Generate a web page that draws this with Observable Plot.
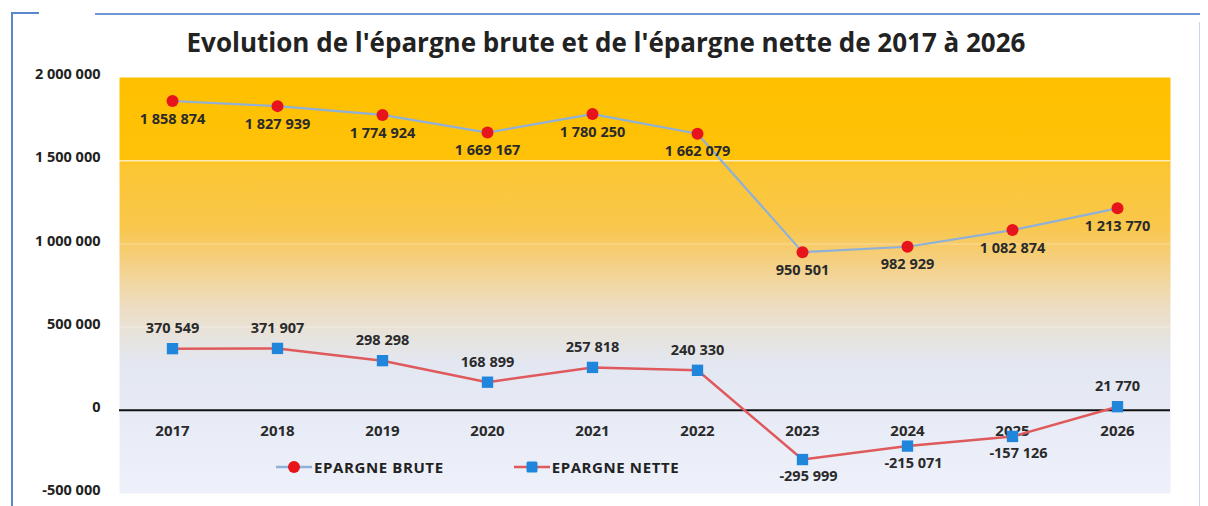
<!DOCTYPE html>
<html><head><meta charset="utf-8">
<script src="https://cdn.jsdelivr.net/npm/d3@7"></script>
<script src="https://cdn.jsdelivr.net/npm/@observablehq/plot@0.6"></script>
<style>
body{margin:0;background:#fff;width:1208px;height:506px;overflow:hidden;position:relative;font-family:"Open Sans",sans-serif}
#title{position:absolute;left:0;top:25px;width:1208px;text-align:center;font-size:26px;font-weight:700;color:#222;line-height:34px;padding-left:2px}
#chart{position:absolute;left:0;top:60px}
.bL{position:absolute;left:11px;top:12px;width:2px;height:494px;background:#5a86cc}
.bT1{position:absolute;left:11px;top:12px;width:28px;height:2px;background:#5a86cc}
.bT2{position:absolute;left:95px;top:13px;width:1105px;height:2px;background:#6f95d4}
.bR{position:absolute;left:1199px;top:22px;width:1px;height:484px;background:#c9d6ee}
#legend{position:absolute;top:457px;left:276px;display:flex;align-items:center;font-size:15px;font-weight:700;color:#222;letter-spacing:0.6px}
#legend .it{display:flex;align-items:center;margin-right:70px}
#legend svg{margin-right:2px}
</style></head><body>
<div class="bL"></div><div class="bT1"></div><div class="bT2"></div><div class="bR"></div>
<div id="title">Evolution de l'épargne brute et de l'épargne nette de 2017 à 2026</div>
<div id="chart"></div>
<div id="legend"></div>
<script>
const years = ["2017","2018","2019","2020","2021","2022","2023","2024","2025","2026"];
const brute = [1858874, 1827939, 1774924, 1669167, 1780250, 1662079, 950501, 982929, 1082874, 1213770];
const nette = [370549, 371907, 298298, 168899, 257818, 240330, -295999, -215071, -157126, 21770];
const yTicks = [-500000, 0, 500000, 1000000, 1500000, 2000000];
const seriesNames = ["EPARGNE BRUTE", "EPARGNE NETTE"];
const colBruteLine = "#8fb0d8", colBruteDot = "#e8141c";
const colNetteLine = "#df5a5c", colNetteDot = "#1f86dc";

const fmt = v => d3.format(",")(v).replace(/,/g, " ").replace("−", "-");
const dataB = years.map((y, i) => ({year: y, v: brute[i]}));
const dataN = years.map((y, i) => ({year: y, v: nette[i]}));
const labelStyle = {fontSize: 14.5, fontWeight: "bold", fill: "#2a2a2a", letterSpacing: "0.8px"};

const chart = Plot.plot({
  width: 1208, height: 446,
  marginTop: 17, marginBottom: 13, marginLeft: 119, marginRight: 38,
  x: {type: "point", domain: years, padding: 0.5, axis: null},
  y: {domain: [-500000, 2000000], axis: null},
  style: {fontFamily: "'Open Sans', sans-serif", background: "transparent", overflow: "visible"},
  marks: [
    Plot.frame({fill: "url(#bg)", stroke: null}),
    Plot.gridY([1500000], {stroke: "#fff", strokeOpacity: 0.7, strokeWidth: 1.5}),
    Plot.gridY([1000000, 500000], {stroke: "#fff", strokeOpacity: 0.25, strokeWidth: 1.5}),
    Plot.ruleY([0], {stroke: "#111", strokeWidth: 2}),
    Plot.axisY(yTicks, {label: null, tickSize: 0, tickPadding: 19, tickFormat: fmt, fontSize: 14.5, fontWeight: "bold", fill: "#222", dy: -3, letterSpacing: "0.7px"}),
    Plot.text(years, {x: d => d, y: () => 0, dy: 21, text: d => d, ...labelStyle, fontSize: 15, letterSpacing: "1px"}),
    Plot.line(dataB, {x: "year", y: "v", stroke: colBruteLine, strokeWidth: 2.2}),
    Plot.line(dataN, {x: "year", y: "v", stroke: colNetteLine, strokeWidth: 2.5}),
    Plot.dot(dataB, {x: "year", y: "v", r: 6, fill: colBruteDot, stroke: null}),
    Plot.dot(dataN, {x: "year", y: "v", symbol: "square", r: 6.4, fill: colNetteDot, stroke: null}),
    Plot.text(dataB, {x: "year", y: "v", text: d => fmt(d.v), dy: 18, ...labelStyle}),
    Plot.text(dataN.filter(d => d.v >= 0), {x: "year", y: "v", text: d => fmt(d.v), dy: -20, ...labelStyle}),
    Plot.text(dataN.filter(d => d.v < 0), {x: "year", y: "v", text: d => fmt(d.v), dy: 17, dx: 6, ...labelStyle})
  ]
});
chart.insertAdjacentHTML("afterbegin", `<defs><linearGradient id="bg" x1="0" y1="0" x2="0" y2="1">
<stop offset="0" stop-color="#ffc000"/>
<stop offset="0.195" stop-color="#ffc208"/>
<stop offset="0.21" stop-color="#fcc632"/>
<stop offset="0.36" stop-color="#f9c74c"/>
<stop offset="0.44" stop-color="#f5cf80"/>
<stop offset="0.50" stop-color="#f1d8a6"/>
<stop offset="0.56" stop-color="#ecdec6"/>
<stop offset="0.62" stop-color="#e7e3dc"/>
<stop offset="0.69" stop-color="#e3e7f2"/>
<stop offset="1" stop-color="#eef1fa"/>
</linearGradient></defs>`);
document.getElementById("chart").appendChild(chart);

const icons = [
  `<svg width="36" height="14"><line x1="0" y1="7" x2="36" y2="7" stroke="${colBruteLine}" stroke-width="2.5"/><circle cx="18" cy="7" r="6" fill="${colBruteDot}"/></svg>`,
  `<svg width="36" height="14"><line x1="0" y1="7" x2="36" y2="7" stroke="${colNetteLine}" stroke-width="2.5"/><rect x="12.5" y="1.5" width="11" height="11" rx="1.5" fill="${colNetteDot}"/></svg>`
];
document.getElementById("legend").innerHTML = seriesNames.map((n, i) =>
  `<div class="it">${icons[i]}<span>${n}</span></div>`).join("");
</script>
</body></html>
